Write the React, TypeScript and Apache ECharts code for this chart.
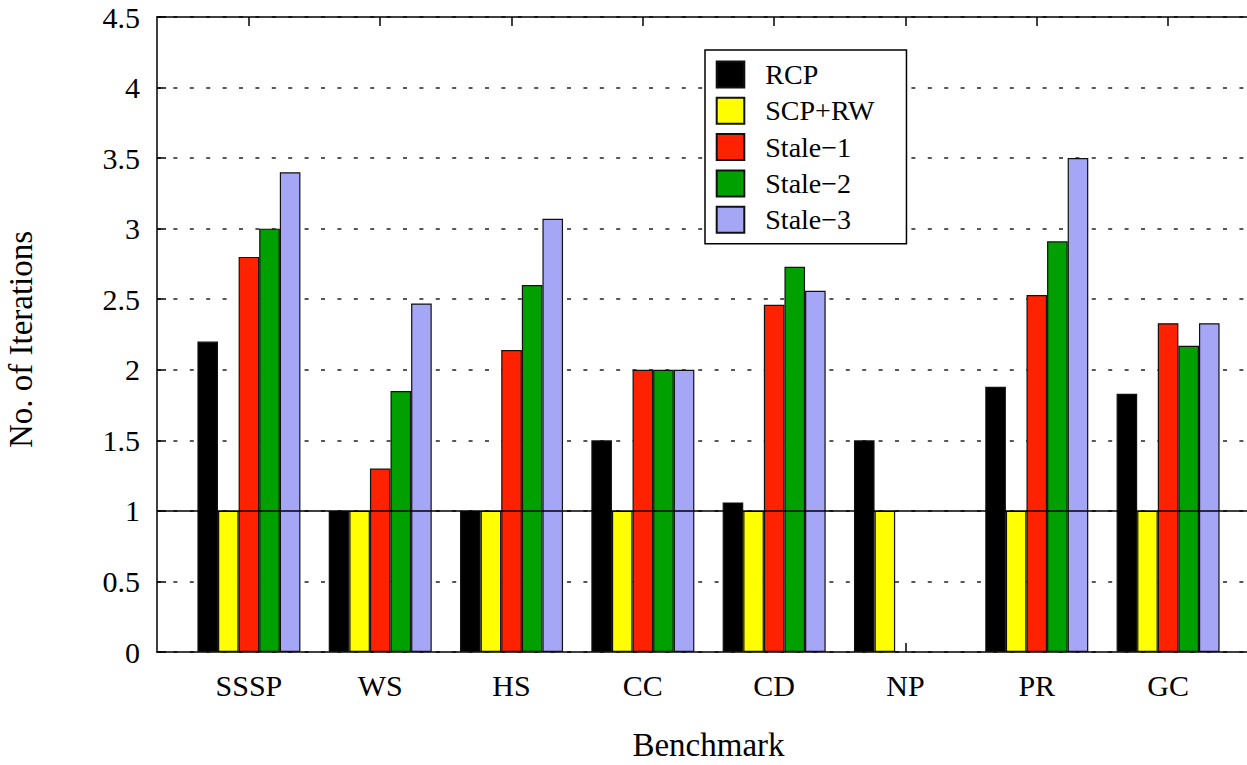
import React, { useEffect, useRef } from "react";
import * as echarts from "echarts";

const categories = ["SSSP", "WS", "HS", "CC", "CD", "NP", "PR", "GC"];
const seriesNames = ["RCP", "SCP+RW", "Stale\u22121", "Stale\u22122", "Stale\u22123"];
const rcp = [2.2, 1, 1, 1.5, 1.06, 1.5, 1.88, 1.83];
const scpRw = [1, 1, 1, 1, 1, 1, 1, 1];
const stale1 = [2.8, 1.3, 2.14, 2, 2.46, null, 2.53, 2.33];
const stale2 = [3.0, 1.85, 2.6, 2, 2.73, null, 2.91, 2.17];
const stale3 = [3.4, 2.47, 3.07, 2, 2.56, null, 3.5, 2.33];
const colors = ["#000000", "#ffff00", "#ff2200", "#00a000", "#a6a6f6"];
const yTicks = [0, 0.5, 1, 1.5, 2, 2.5, 3, 3.5, 4, 4.5];

const FONT = '"Liberation Serif", "DejaVu Serif", serif';

export default function App() {
  const ref = useRef<HTMLDivElement>(null);
  useEffect(() => {
    if (!ref.current) return;
    const chart = echarts.init(ref.current, null, { renderer: "svg" });
    const values = [rcp, scpRw, stale1, stale2, stale3];
    const catIdx = categories.map((_, i) => i);
    const barSeries = values.map((arr, s) => ({
      name: seriesNames[s],
      type: "bar",
      xAxisIndex: 0,
      yAxisIndex: 0,
      barWidth: 20.6,
      barGap: "0%",
      z: 3,
      itemStyle: { color: colors[s], borderColor: "#111", borderWidth: 1.2 },
      data: arr.map((v, i) => [i, v == null ? "-" : v]),
    }));
    chart.setOption({
      animation: false,
      backgroundColor: "#fff",
      textStyle: { fontFamily: FONT, color: "#000" },
      grid: {
        left: 157,
        right: -13,
        top: 17,
        bottom: 113,
        containLabel: false,
        outerBoundsMode: "none",
      },
      legend: {
        orient: "vertical",
        left: 705,
        top: 50,
        icon: "rect",
        itemWidth: 27.6,
        itemHeight: 26,
        itemGap: 8.3,
        padding: [10.5, 32, 10, 10.7],
        borderColor: "#000",
        borderWidth: 1.5,
        backgroundColor: "#fff",
        z: 10,
        data: seriesNames,
        textStyle: { fontFamily: FONT, fontSize: 28, color: "#000", padding: [0, 0, 0, 16] },
      },
      xAxis: [
        {
          type: "value",
          position: "bottom",
          min: -0.7,
          max: 7.7,
          name: "Benchmark",
          nameLocation: "middle",
          nameGap: 81,
          nameTextStyle: { fontFamily: FONT, fontSize: 33, lineHeight: 24, color: "#000" },
          axisLine: { show: true, onZero: false, lineStyle: { color: "#000", width: 1.5 } },
          axisTick: { show: true, inside: true, length: 9, customValues: catIdx, lineStyle: { color: "#000", width: 1.5 } },
          axisLabel: {
            show: true,
            customValues: catIdx,
            formatter: (v: number) => categories[Math.round(v)] ?? "",
            fontFamily: FONT,
            fontSize: 30,
            color: "#000",
            margin: 18,
          },
          splitLine: { show: false },
        },
        {
          type: "value",
          position: "top",
          min: -0.7,
          max: 7.7,
          axisLine: { show: true, onZero: false, lineStyle: { color: "#000", width: 1.5 } },
          axisTick: { show: true, inside: true, length: 9, customValues: catIdx, lineStyle: { color: "#000", width: 1.5 } },
          axisLabel: { show: false },
          splitLine: { show: false },
        },
      ],
      yAxis: {
        type: "value",
        min: 0,
        max: 4.5,
        interval: 0.5,
        name: "No. of Iterations",
        nameLocation: "middle",
        nameGap: 120,
        nameTextStyle: { fontFamily: FONT, fontSize: 33, color: "#000", padding: [0, 10, 0, 0] },
        axisLine: { show: true, onZero: false, lineStyle: { color: "#000", width: 1.5 } },
        axisTick: { show: true, inside: true, length: 9, lineStyle: { color: "#000", width: 1.5 } },
        axisLabel: {
          fontFamily: FONT,
          fontSize: 30,
          color: "#000",
          margin: 17,
          formatter: (v: number) => (yTicks.indexOf(v) >= 0 ? String(v) : ""),
        },
        splitLine: { show: true, lineStyle: { color: "#222", width: 1.5, type: [4, 12.4] } },
      },
      series: [
        {
          name: "ref",
          type: "line",
          xAxisIndex: 0,
          yAxisIndex: 0,
          data: [],
          z: 1,
          markLine: {
            silent: true,
            symbol: "none",
            label: { show: false },
            lineStyle: { color: "#000", width: 1.5, type: "solid" },
            data: [{ yAxis: 1 }],
          },
        },
        ...barSeries,
      ],
    });
    return () => chart.dispose();
  }, []);
  return <div ref={ref} style={{ position: "fixed", left: 0, top: 0, width: 1247, height: 765 }} />;
}
